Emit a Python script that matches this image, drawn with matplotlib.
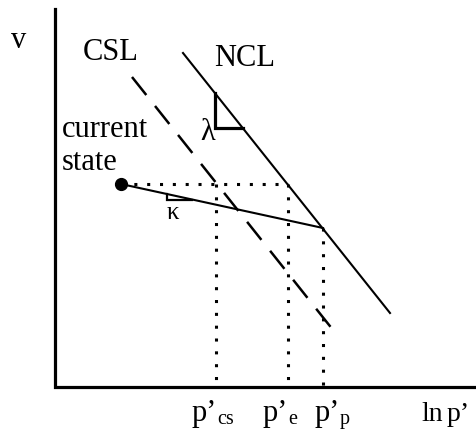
import matplotlib.pyplot as plt

plt.rcParams['font.family'] = ['Liberation Serif', 'DejaVu Serif']

# schematic v - ln p' plane (arbitrary units, origin at the axes corner)
ncl_x = [128, 335]
ncl_v = [334, 74]
csl_x = [77, 282]
csl_v = [310, 52]

state = (66, 203)          # current state
p_cs, p_e, p_p = 161, 233, 268
v_p = 159                  # v on the NCL at p'_p

lam_tri_x = [160, 160, 188]
lam_tri_v = [294, 259, 259]
kap_tri_x = [112, 112, 137]
kap_tri_v = [193, 187, 187]

fig = plt.figure(figsize=(4.77, 4.34), dpi=100)
ax = fig.add_axes([0, 0, 1, 1])
ax.set_xlim(-55, 422)
ax.set_ylim(-47, 387)
ax.axis('off')

# axes
ax.plot([0, 0, 420], [378, 0, 0], color='black', lw=2.3, solid_joinstyle='miter')

# NCL and CSL
ax.plot(ncl_x, ncl_v, color='black', lw=1.5)
ax.plot(csl_x, csl_v, color='black', lw=1.8, linestyle=(0, (9.2, 5.6)))

# unloading line (kappa) from current state to the NCL
ax.plot([state[0], p_p], [state[1], v_p], color='black', lw=1.5)
ax.plot(*state, 'o', color='black', markersize=8.5)

# dotted construction lines
dot = dict(color='black', lw=2.2, linestyle=(0, (1, 3.2)))
ax.plot([state[0], p_e], [state[1], state[1]], **dot)
ax.plot([p_cs, p_cs], [state[1], 0], **dot)
ax.plot([p_e, p_e], [state[1], 0], **dot)
ax.plot([p_p, p_p], [v_p, 0], **dot)

# slope triangles
ax.plot(lam_tri_x, lam_tri_v, color='black', lw=2.3, solid_joinstyle='miter')
ax.plot(kap_tri_x, kap_tri_v, color='black', lw=1.6, solid_joinstyle='miter')

fs = 22
ax.text(-36, 347, 'v', fontsize=fs, ha='center', va='center')
ax.text(56, 334, 'CSL', fontsize=fs, ha='center', va='center')
ax.text(190, 329, 'NCL', fontsize=fs, ha='center', va='center')
ax.text(7, 250, 'current', fontsize=fs, ha='left', va='baseline')
ax.text(7, 217, 'state', fontsize=fs, ha='left', va='baseline')
ax.text(153, 254, 'λ', fontsize=fs, ha='center', va='center')
ax.text(118, 174, 'κ', fontsize=18, ha='center', va='center')

# x-axis labels
base = -34
for x0, sub in [(p_cs - 24, 'cs'), (p_e - 25, 'e'), (p_p - 8, 'p')]:
    ax.text(x0, base, 'p’', fontsize=fs, ha='left', va='baseline')
    ax.text(x0 + 25, base - 3, sub, fontsize=14.5, ha='left', va='baseline')
ax.text(366, base, 'ln', fontsize=20, ha='left', va='baseline')
ax.text(392, base, 'p’', fontsize=20, ha='left', va='baseline')

fig.savefig('out.png', dpi=100)
